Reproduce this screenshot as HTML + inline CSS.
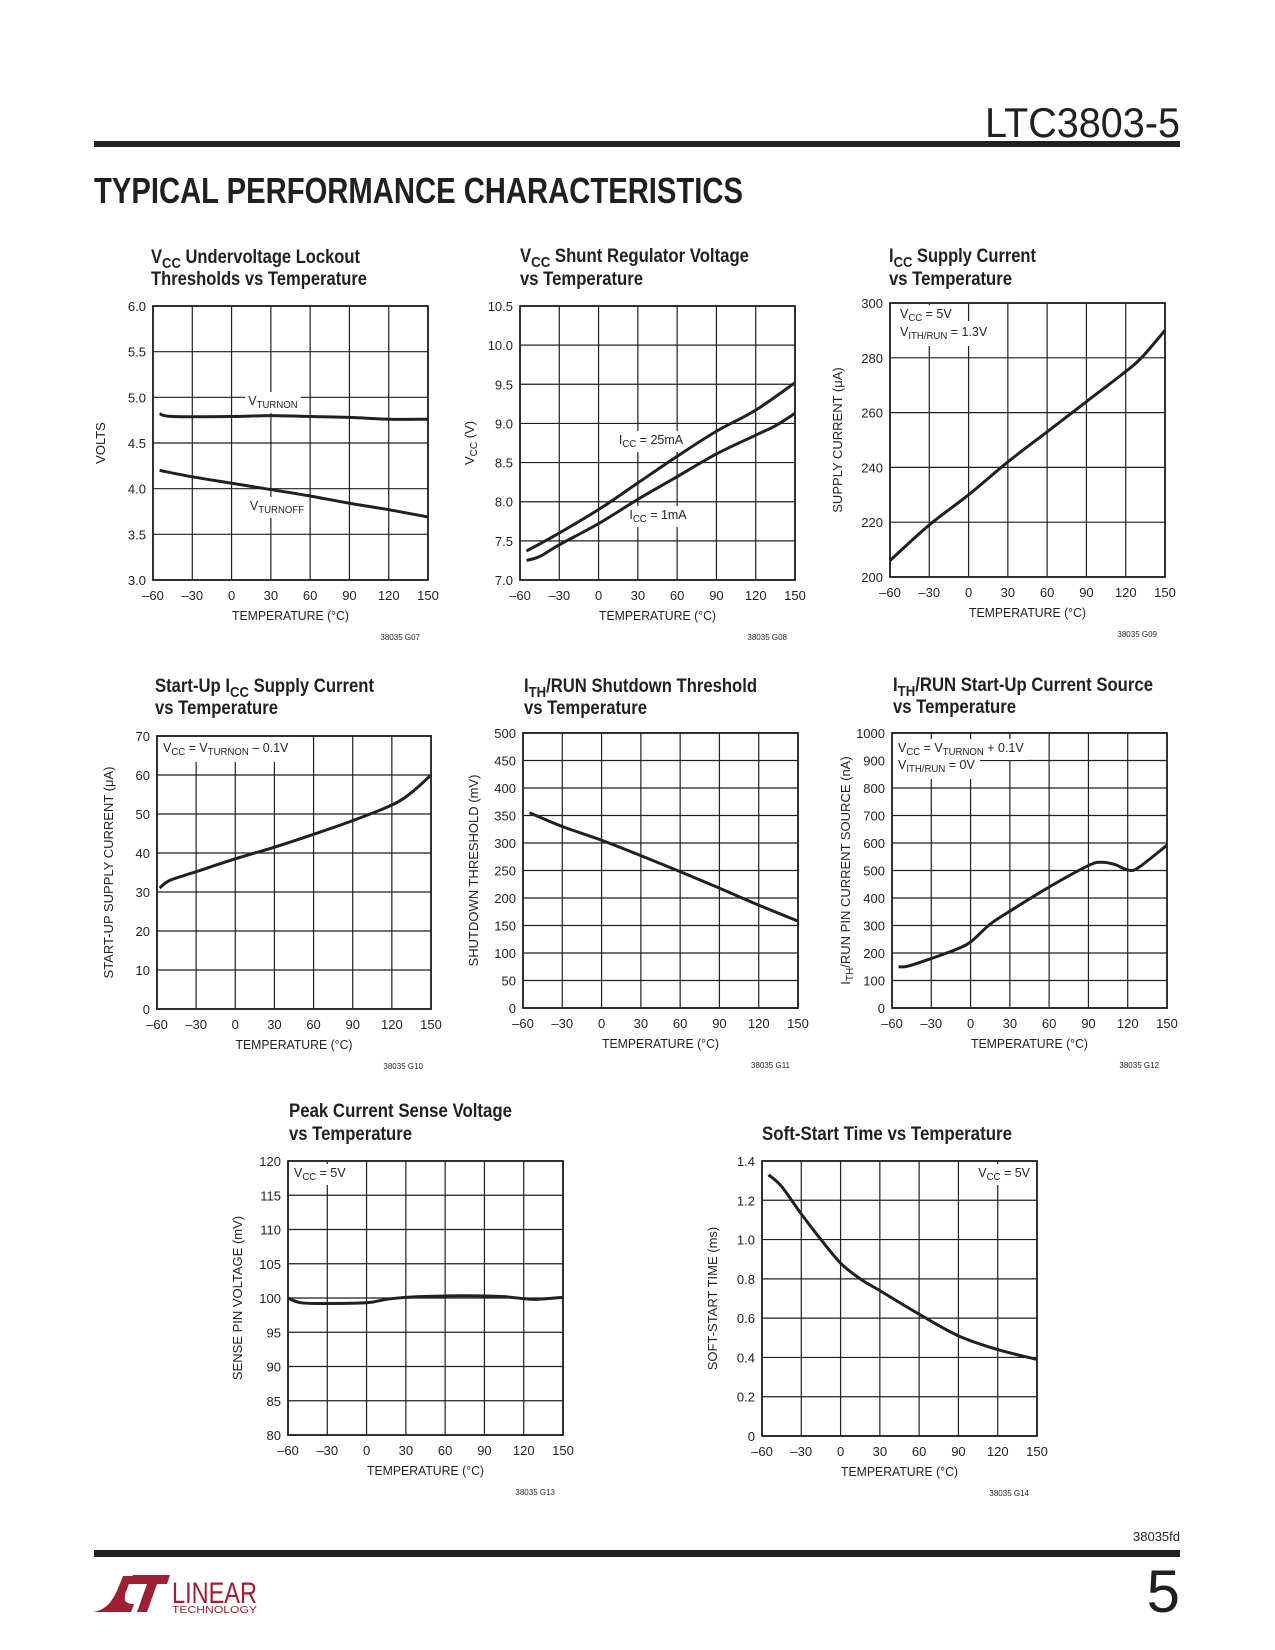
<!DOCTYPE html>
<html><head><meta charset="utf-8">
<style>
html,body{margin:0;padding:0;background:#fff;}
svg{display:block;font-family:"Liberation Sans",sans-serif;}
</style></head>
<body>
<svg id="page" xmlns="http://www.w3.org/2000/svg" width="1275" height="1650" viewBox="0 0 1275 1650">
  <rect x="0" y="0" width="1275" height="1650" fill="#fff"/>
  <text x="985" y="137" font-size="42" fill="#231f20" textLength="195" lengthAdjust="spacingAndGlyphs">LTC3803-5</text>
  <rect x="94" y="141" width="1086" height="6" fill="#231f20"/>
  <text x="94" y="203" font-size="36" font-weight="bold" fill="#231f20" textLength="649" lengthAdjust="spacingAndGlyphs">TYPICAL PERFORMANCE CHARACTERISTICS</text>
  <text x="1180" y="1541" font-size="13" text-anchor="end" fill="#231f20">38035fd</text>
  <rect x="94" y="1550" width="1086" height="7" fill="#231f20"/>
  <text x="1180" y="1612" font-size="60" text-anchor="end" fill="#231f20">5</text>
  <g fill="#9c1f34">
    <path d="M93,1612 C108,1610 114,1598 119,1586 L123,1576 L141,1576 L138,1584 L129,1584 C124,1596 121,1604 134,1604 L131,1612 Z"/>
    <path d="M133,1575 L170,1575 L167,1584 L157,1584 L147,1612 L137,1612 L147,1584 L130,1584 Z"/>
    <text x="172" y="1603" font-size="30" textLength="85" lengthAdjust="spacingAndGlyphs">LINEAR</text>
    <text x="172" y="1613" font-size="10" textLength="85" lengthAdjust="spacingAndGlyphs">TECHNOLOGY</text>
  </g>
  <g id="charts"></g>
</svg>
<script>
// ---------- shared axis data ----------
const xTicks = [-60, -30, 0, 30, 60, 90, 120, 150];
const xTickLabels = ['–60', '–30', '0', '30', '60', '90', '120', '150'];

// G07
const g07Ticks = [3.0, 3.5, 4.0, 4.5, 5.0, 5.5, 6.0];
const g07TickLabels = ['3.0', '3.5', '4.0', '4.5', '5.0', '5.5', '6.0'];
const g07TempOn = [-55, -45, 0, 30, 60, 90, 120, 150];
const g07TurnOn = [4.82, 4.79, 4.79, 4.80, 4.79, 4.78, 4.76, 4.76];
const g07TempOff = [-55, -30, 0, 30, 60, 90, 120, 150];
const g07TurnOff = [4.20, 4.13, 4.06, 3.99, 3.92, 3.84, 3.77, 3.69];

// G08
const g08Ticks = [7.0, 7.5, 8.0, 8.5, 9.0, 9.5, 10.0, 10.5];
const g08TickLabels = ['7.0', '7.5', '8.0', '8.5', '9.0', '9.5', '10.0', '10.5'];
const g08Temp25 = [-55, -30, 0, 30, 60, 90, 120, 150];
const g08V25 = [7.37, 7.60, 7.90, 8.24, 8.58, 8.90, 9.17, 9.52];
const g08Temp1 = [-55, -45, -30, 0, 30, 60, 90, 120, 135, 150];
const g08V1 = [7.25, 7.30, 7.45, 7.72, 8.03, 8.32, 8.61, 8.85, 8.97, 9.13];

// G09
const g09Ticks = [200, 220, 240, 260, 280, 300];
const g09TickLabels = ['200', '220', '240', '260', '280', '300'];
const g09Temp = [-60, -30, 0, 30, 60, 90, 120, 132, 150];
const g09Icc = [206, 219, 230, 242, 253, 264, 275, 280, 290];

// G10
const g10Ticks = [0, 10, 20, 30, 40, 50, 60, 70];
const g10TickLabels = ['0', '10', '20', '30', '40', '50', '60', '70'];
const g10Temp = [-58, -50, -30, 0, 30, 60, 90, 120, 135, 150];
const g10Icc = [31, 33, 35.2, 38.5, 41.5, 44.8, 48.3, 52.3, 55.5, 60];

// G11
const g11Ticks = [0, 50, 100, 150, 200, 250, 300, 350, 400, 450, 500];
const g11TickLabels = ['0', '50', '100', '150', '200', '250', '300', '350', '400', '450', '500'];
const g11Temp = [-55, -30, 0, 30, 60, 90, 120, 150];
const g11Vth = [355, 330, 305, 277, 248, 218, 187, 158];

// G12
const g12Ticks = [0, 100, 200, 300, 400, 500, 600, 700, 800, 900, 1000];
const g12TickLabels = ['0', '100', '200', '300', '400', '500', '600', '700', '800', '900', '1000'];
const g12Temp = [-55, -48, -30, -10, 0, 15, 30, 60, 90, 100, 110, 120, 128, 150];
const g12Isrc = [150, 152, 180, 215, 240, 305, 352, 440, 518, 530, 522, 502, 510, 592];

// G13
const g13Ticks = [80, 85, 90, 95, 100, 105, 110, 115, 120];
const g13TickLabels = ['80', '85', '90', '95', '100', '105', '110', '115', '120'];
const g13Temp = [-60, -50, -30, 0, 15, 30, 60, 90, 105, 120, 130, 150];
const g13Vsense = [100, 99.3, 99.2, 99.3, 99.8, 100.1, 100.3, 100.3, 100.2, 99.9, 99.8, 100.1];

// G14
const g14Ticks = [0, 0.2, 0.4, 0.6, 0.8, 1.0, 1.2, 1.4];
const g14TickLabels = ['0', '0.2', '0.4', '0.6', '0.8', '1.0', '1.2', '1.4'];
const g14Temp = [-55, -45, -30, -15, 0, 15, 30, 60, 90, 120, 150];
const g14Tss = [1.33, 1.27, 1.13, 1.00, 0.88, 0.80, 0.74, 0.62, 0.51, 0.44, 0.39];

// ---------- helpers ----------
const NS = 'http://www.w3.org/2000/svg';
const root = document.getElementById('charts');
const condense = [];

function mk(tag, attrs, parent) {
  const e = document.createElementNS(NS, tag);
  for (const k in attrs) e.setAttribute(k, attrs[k]);
  parent.appendChild(e);
  return e;
}
function richText(parent, x, y, str, size, weight, anchor) {
  const t = mk('text', {x: x, y: y, 'font-size': size, fill: '#231f20', 'text-anchor': anchor || 'start'}, parent);
  if (weight) t.setAttribute('font-weight', weight);
  const parts = str.split(/_\{([^}]*)\}/);
  const sub = Math.round(size * 0.78);
  const off = Math.round(size * 0.25);
  parts.forEach((p, i) => {
    if (!p) return;
    const ts = mk('tspan', {}, t);
    ts.textContent = p;
    if (i % 2 === 1) { ts.setAttribute('font-size', sub); ts.setAttribute('dy', off); }
    else if (i > 0) { ts.setAttribute('dy', -off); }
  });
  return t;
}
function catmull(pts) {
  let d = 'M' + pts[0][0].toFixed(2) + ',' + pts[0][1].toFixed(2);
  for (let i = 0; i < pts.length - 1; i++) {
    const p0 = pts[Math.max(0, i - 1)], p1 = pts[i], p2 = pts[i + 1], p3 = pts[Math.min(pts.length - 1, i + 2)];
    const c1 = [p1[0] + (p2[0] - p0[0]) / 6, p1[1] + (p2[1] - p0[1]) / 6];
    const c2 = [p2[0] - (p3[0] - p1[0]) / 6, p2[1] - (p3[1] - p1[1]) / 6];
    d += ' C' + c1[0].toFixed(2) + ',' + c1[1].toFixed(2) + ' ' + c2[0].toFixed(2) + ',' + c2[1].toFixed(2) + ' ' + p2[0].toFixed(2) + ',' + p2[1].toFixed(2);
  }
  return d;
}
function boxBehind(g, t, anchorNode, pad) {
  const b = t.getBBox();
  const r = document.createElementNS(NS, 'rect');
  r.setAttribute('x', b.x - pad); r.setAttribute('y', b.y - pad + 2);
  r.setAttribute('width', b.width + 2 * pad); r.setAttribute('height', b.height + 2 * pad - 3);
  r.setAttribute('fill', '#fff');
  
  
  g.insertBefore(r, anchorNode);
}

function chart(c) {
  const g = mk('g', {}, root);
  
  
  const ymin = c.ticks[0], ymax = c.ticks[c.ticks.length - 1];
  const sx = t => c.L + (t - xTicks[0]) / (xTicks[xTicks.length - 1] - xTicks[0]) * (c.R - c.L);
  const sy = v => c.B - (v - ymin) / (ymax - ymin) * (c.B - c.T);

  c.title.forEach((line, i) => {
    const t = richText(g, c.tx, c.ty[i], line.s, 19, 'bold');
    t.setAttribute('textLength', line.w);
    t.setAttribute('lengthAdjust', 'spacingAndGlyphs');
    
    
  });

  const grid = mk('g', {stroke: '#231f20', 'stroke-width': 1.2}, g);
  
  
  xTicks.forEach(t => {
    const ln = mk('line', {x1: sx(t), x2: sx(t), y1: c.T, y2: c.B}, grid);
    
    
  });
  c.ticks.forEach(v => {
    const ln = mk('line', {x1: c.L, x2: c.R, y1: sy(v), y2: sy(v)}, grid);
    
    
  });

  let firstNote = null;
  (c.notes || []).forEach(n => {
    const t = richText(g, n.x, n.y, n.s, 13, null, n.a);
    
    
    if (!firstNote) firstNote = t;
    const anchorNode = firstNote;
    condense.push([t, 0.96, () => boxBehind(g, t, anchorNode, n.pad || 3)]);
  });

  const frame = mk('rect', {x: c.L, y: c.T, width: c.R - c.L, height: c.B - c.T, fill: 'none', stroke: '#231f20', 'stroke-width': 1.8}, g);
  
  

  c.series.forEach(s => {
    const pts = s.x.map((t, i) => [sx(t), sy(s.y[i])]);
    const p = mk('path', {d: catmull(pts), fill: 'none', stroke: '#231f20', 'stroke-width': 3, 'stroke-linejoin': 'round'}, g);
    
    
  });

  xTicks.forEach((t, i) => {
    const tx = mk('text', {x: sx(t), y: c.B + 20, 'font-size': 13, 'text-anchor': 'middle', fill: '#231f20'}, g);
    tx.textContent = xTickLabels[i];
    
    
  });
  c.ticks.forEach((v, i) => {
    const ty = mk('text', {x: c.L - 7, y: sy(v) + 5, 'font-size': 13, 'text-anchor': 'end', fill: '#231f20'}, g);
    ty.textContent = c.tickLabels[i];
    
    
  });

  const xt = mk('text', {x: (c.L + c.R) / 2, y: c.B + 40, 'font-size': 13, 'text-anchor': 'middle', fill: '#231f20', textLength: 117, lengthAdjust: 'spacingAndGlyphs'}, g);
  xt.textContent = 'TEMPERATURE (°C)';
  
  

  const cy = (c.T + c.B) / 2, cx = c.L - c.yoff;
  const yt = richText(g, cx, cy, c.ytitle, 13, null, 'middle');
  yt.setAttribute('transform', 'rotate(-90 ' + cx + ' ' + cy + ')');
  
  

  const code = mk('text', {x: c.R - 8, y: c.B + 60, 'font-size': 8, 'text-anchor': 'end', fill: '#231f20'}, g);
  code.textContent = c.code;
  
  
}

chart({name: 'chart-uvlo-thresholds', L: 153, T: 306, R: 428, B: 580, ticks: g07Ticks, tickLabels: g07TickLabels,
  tx: 151, ty: [263, 285], title: [{s: 'V_{CC} Undervoltage Lockout', w: 209}, {s: 'Thresholds vs Temperature', w: 216}],
  ytitle: 'VOLTS', yoff: 48, code: '38035 G07',
  notes: [{x: 273, y: 405, s: 'V_{TURNON}', a: 'middle'}, {x: 277, y: 510, s: 'V_{TURNOFF}', a: 'middle'}],
  series: [{name: 'vturnon-line', x: g07TempOn, y: g07TurnOn}, {name: 'vturnoff-line', x: g07TempOff, y: g07TurnOff}]});

chart({name: 'chart-shunt-regulator', L: 520, T: 306, R: 795, B: 580, ticks: g08Ticks, tickLabels: g08TickLabels,
  tx: 520, ty: [262, 285], title: [{s: 'V_{CC} Shunt Regulator Voltage', w: 229}, {s: 'vs Temperature', w: 123}],
  ytitle: 'V_{CC} (V)', yoff: 46, code: '38035 G08',
  notes: [{x: 651, y: 444, s: 'I_{CC} = 25mA', a: 'middle'}, {x: 658, y: 519, s: 'I_{CC} = 1mA', a: 'middle'}],
  series: [{name: 'icc-25ma-line', x: g08Temp25, y: g08V25}, {name: 'icc-1ma-line', x: g08Temp1, y: g08V1}]});

chart({name: 'chart-icc-supply-current', L: 890, T: 303, R: 1165, B: 577, ticks: g09Ticks, tickLabels: g09TickLabels,
  tx: 889, ty: [262, 285], title: [{s: 'I_{CC} Supply Current', w: 147}, {s: 'vs Temperature', w: 123}],
  ytitle: 'SUPPLY CURRENT (μA)', yoff: 48, code: '38035 G09',
  notes: [{x: 900, y: 318, s: 'V_{CC} = 5V'}, {x: 900, y: 336, s: 'V_{ITH/RUN} = 1.3V', pad: 5}],
  series: [{name: 'supply-current-line', x: g09Temp, y: g09Icc}]});

chart({name: 'chart-startup-current', L: 157, T: 736, R: 431, B: 1009, ticks: g10Ticks, tickLabels: g10TickLabels,
  tx: 155, ty: [692, 714], title: [{s: 'Start-Up I_{CC} Supply Current', w: 219}, {s: 'vs Temperature', w: 123}],
  ytitle: 'START-UP SUPPLY CURRENT (μA)', yoff: 44, code: '38035 G10',
  notes: [{x: 163, y: 752, s: 'V_{CC} = V_{TURNON} – 0.1V', pad: 5}],
  series: [{name: 'startup-current-line', x: g10Temp, y: g10Icc}]});

chart({name: 'chart-shutdown-threshold', L: 523, T: 733, R: 798, B: 1008, ticks: g11Ticks, tickLabels: g11TickLabels,
  tx: 524, ty: [692, 714], title: [{s: 'I_{TH}/RUN Shutdown Threshold', w: 233}, {s: 'vs Temperature', w: 123}],
  ytitle: 'SHUTDOWN THRESHOLD (mV)', yoff: 45, code: '38035 G11',
  series: [{name: 'shutdown-threshold-line', x: g11Temp, y: g11Vth}]});

chart({name: 'chart-startup-current-source', L: 892, T: 733, R: 1167, B: 1008, ticks: g12Ticks, tickLabels: g12TickLabels,
  tx: 893, ty: [691, 713], title: [{s: 'I_{TH}/RUN Start-Up Current Source', w: 260}, {s: 'vs Temperature', w: 123}],
  ytitle: 'I_{TH}/RUN PIN CURRENT SOURCE (nA)', yoff: 42, code: '38035 G12',
  notes: [{x: 898, y: 752, s: 'V_{CC} = V_{TURNON} + 0.1V'}, {x: 898, y: 769, s: 'V_{ITH/RUN} = 0V', pad: 5}],
  series: [{name: 'current-source-line', x: g12Temp, y: g12Isrc}]});

chart({name: 'chart-peak-sense-voltage', L: 288, T: 1161, R: 563, B: 1435, ticks: g13Ticks, tickLabels: g13TickLabels,
  tx: 289, ty: [1117, 1140], title: [{s: 'Peak Current Sense Voltage', w: 223}, {s: 'vs Temperature', w: 123}],
  ytitle: 'SENSE PIN VOLTAGE (mV)', yoff: 46, code: '38035 G13',
  notes: [{x: 294, y: 1177, s: 'V_{CC} = 5V'}],
  series: [{name: 'sense-voltage-line', x: g13Temp, y: g13Vsense}]});

chart({name: 'chart-soft-start-time', L: 762, T: 1161, R: 1037, B: 1436, ticks: g14Ticks, tickLabels: g14TickLabels,
  tx: 762, ty: [1140], title: [{s: 'Soft-Start Time vs Temperature', w: 250}],
  ytitle: 'SOFT-START TIME (ms)', yoff: 45, code: '38035 G14',
  notes: [{x: 1030, y: 1177, s: 'V_{CC} = 5V', a: 'end'}],
  series: [{name: 'soft-start-line', x: g14Temp, y: g14Tss}]});

condense.forEach(([t, f, after]) => {
  const w = t.getComputedTextLength();
  t.setAttribute('textLength', (w * f).toFixed(1));
  t.setAttribute('lengthAdjust', 'spacingAndGlyphs');
});
condense.forEach(([t, f, after]) => { if (after) after(); });
</script>
</body></html>
